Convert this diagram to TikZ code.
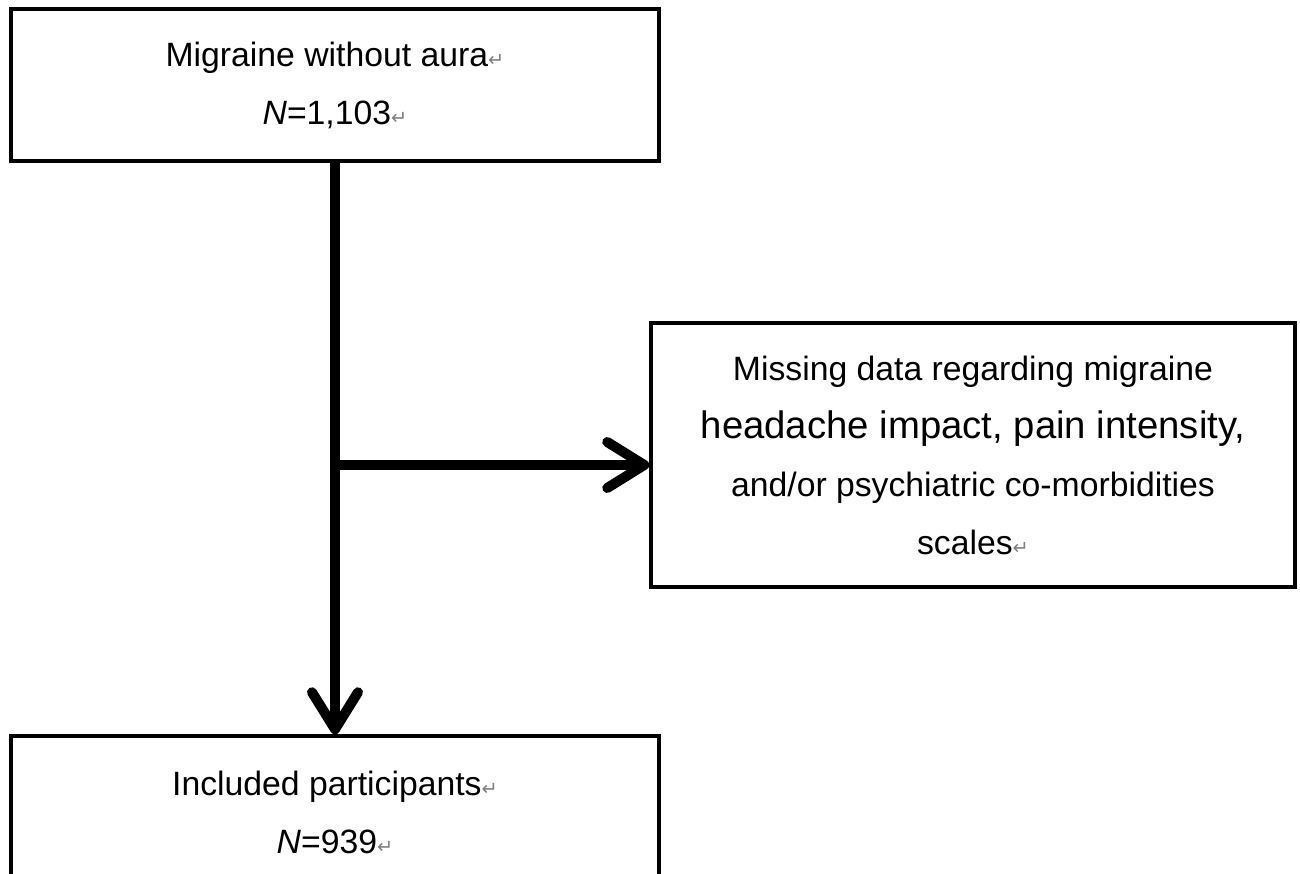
\documentclass[tikz,border=0pt]{standalone}
\usepackage{fontspec}
\setmainfont{Liberation Sans}
\newfontfamily\markfont{DejaVu Sans}
\usetikzlibrary{arrows.meta}
\newcommand{\pmark}{{\markfont\fontsize{5.5}{5.5}\selectfont\color{gray}↵}}

\begin{document}
\begin{tikzpicture}[x=0.1mm, y=-0.1mm,
    box/.style={rectangle, draw, line width=0.35mm, align=center, inner sep=0pt,
        font=\fontsize{9.6}{16.5}\selectfont},
    flow/.style={line width=1mm, -{Straight Barb[length=3.7mm, width=4.6mm, round]}}]
    \useasboundingbox (0,0) rectangle (1300,874);
    \clip (0,0) rectangle (1300,874);
    \node[box, minimum width=64.8mm, minimum height=15.2mm] (migraine) at (335,85)
        {Migraine without aura\pmark\\ \textit{N}=1,103\pmark};
    \node[box, minimum width=64.4mm, minimum height=26.4mm] (missing) at (973,455)
        {Missing data regarding migraine\\
         {\fontsize{10.9}{16.5}\selectfont headache impact, pain intensity,}\\
         and/or psychiatric co-morbidities\\ scales\pmark};
    \node[box, minimum width=64.8mm, minimum height=15.2mm] (included) at (335,812)
        {Included participants\pmark\\ \textit{N}=939\pmark};
    \coordinate (split) at (335,465);
    \draw[flow] (migraine.south) -- (included.north);
    \draw[flow] (split) -- (split -| missing.west);
\end{tikzpicture}
\end{document}
